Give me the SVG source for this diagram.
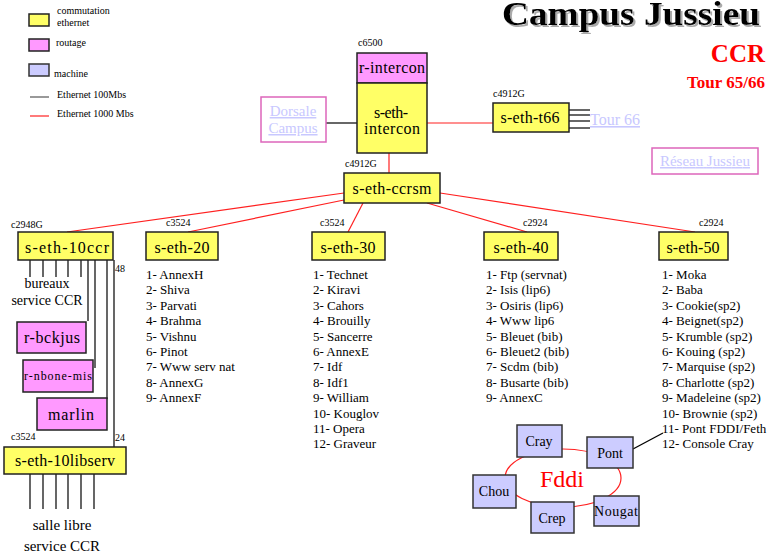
<svg xmlns="http://www.w3.org/2000/svg" width="767" height="555" viewBox="0 0 767 555" font-family="Times New Roman">
<defs>
<filter id="shadow" x="-5%" y="-20%" width="110%" height="150%">
<feOffset in="SourceAlpha" dx="2" dy="2" result="o"/>
<feFlood flood-color="#aaaaaa"/>
<feComposite in2="o" operator="in" result="s"/>
<feMerge><feMergeNode in="s"/><feMergeNode in="SourceGraphic"/></feMerge>
</filter>
</defs>
<style>
text{font-family:'Times New Roman','Liberation Serif',serif}
.sw{fill:#ffff66;stroke:#222;stroke-width:1.5}
.rt{fill:#ff99ff;stroke:#222;stroke-width:1.5}
.mc{fill:#ccccff;stroke:#333;stroke-width:1.5}
.lk{fill:#fff;stroke:#dd66bb;stroke-width:1.5}
.lt{fill:#c8c8ff;text-decoration:underline}
.red{fill:#ff0000}
.bl{font-size:16px;text-anchor:middle}
.sm{font-size:10px}
.li{font-size:13px}
.r{stroke:#ff2020;stroke-width:1.2;fill:none}
.k{stroke:#000;stroke-width:1.2;fill:none}
</style>

<g id="legend">
<rect x="29" y="14" width="20" height="12" class="sw"/>
<text x="57" y="14" class="sm">commutation</text>
<text x="57" y="26" class="sm">ethernet</text>
<rect x="29" y="39" width="20" height="12" class="rt"/>
<text x="56" y="46" class="sm">routage</text>
<rect x="29" y="64" width="20" height="12" class="mc"/>
<text x="54" y="77" class="sm">machine</text>
<line x1="30" y1="97" x2="49" y2="97" stroke="#555" stroke-width="1.2"/>
<text x="57" y="98" class="sm">Ethernet 100Mbs</text>
<line x1="30" y1="116" x2="49" y2="116" stroke="#ff2020" stroke-width="1.2"/>
<text x="57" y="117" class="sm">Ethernet 1000 Mbs</text>
</g>

<g id="title">
<text x="502" y="25" font-size="34" font-weight="bold" filter="url(#shadow)" textLength="258" lengthAdjust="spacingAndGlyphs">Campus Jussieu</text>
<text x="765" y="62" font-size="25" font-weight="bold" text-anchor="end" class="red">CCR</text>
<text x="765" y="88" font-size="17" font-weight="bold" text-anchor="end" class="red">Tour 65/66</text>
</g>

<g id="connectors">
<line x1="326" y1="123" x2="357" y2="123" class="k"/>
<line x1="427" y1="123" x2="493" y2="123" class="r"/>
<line x1="389" y1="153" x2="389" y2="173" class="r"/>
<line x1="344" y1="193" x2="67" y2="232" class="r"/>
<line x1="344" y1="200" x2="188" y2="232" class="r"/>
<line x1="363" y1="203" x2="348" y2="232" class="r"/>
<line x1="427" y1="203" x2="527" y2="232" class="r"/>
<line x1="440" y1="193" x2="695" y2="232" class="r"/>
<g class="k">
<line x1="569" y1="110" x2="590" y2="110"/>
<line x1="569" y1="115" x2="590" y2="115"/>
<line x1="569" y1="121" x2="590" y2="121"/>
<line x1="569" y1="128" x2="590" y2="128"/>
<line x1="30" y1="260" x2="30" y2="277"/>
<line x1="43" y1="260" x2="43" y2="277"/>
<line x1="56" y1="260" x2="56" y2="277"/>
<line x1="68" y1="260" x2="68" y2="277"/>
<line x1="81" y1="260" x2="81" y2="277"/>
<line x1="88" y1="260" x2="88" y2="321"/>
<line x1="95" y1="260" x2="95" y2="368"/>
<line x1="107" y1="260" x2="107" y2="399"/>
<line x1="114" y1="260" x2="114" y2="447"/>
<line x1="30" y1="474" x2="30" y2="509"/>
<line x1="43" y1="474" x2="43" y2="509"/>
<line x1="56" y1="474" x2="56" y2="509"/>
<line x1="68" y1="474" x2="68" y2="509"/>
<line x1="81" y1="474" x2="81" y2="509"/>
<line x1="94" y1="474" x2="94" y2="509"/>
<line x1="633" y1="449" x2="663" y2="433"/>
</g>
<ellipse cx="563" cy="478" rx="58" ry="29" class="r"/>
</g>

<g id="dorsale">
<rect x="261" y="97" width="65" height="45" class="lk"/>
<text x="293" y="116" font-size="15" text-anchor="middle" class="lt">Dorsale</text>
<text x="293" y="133" font-size="15" text-anchor="middle" class="lt">Campus</text>
</g>

<g id="r-intercon">
<text x="358" y="46" class="sm">c6500</text>
<rect x="357" y="53" width="70" height="30" class="rt"/>
<text x="392" y="73" class="bl" textLength="66">r-intercon</text>
</g>

<g id="s-eth-intercon">
<rect x="357" y="83" width="70" height="70" class="sw"/>
<text x="391" y="118" class="bl" textLength="34">s-eth-</text>
<text x="392" y="134" class="bl" textLength="56">intercon</text>
</g>

<g id="s-eth-t66">
<text x="493" y="97" class="sm">c4912G</text>
<rect x="493" y="103" width="76" height="29" class="sw"/>
<text x="530" y="123" class="bl" textLength="59">s-eth-t66</text>
</g>

<g id="tour66">
<text x="590" y="125" font-size="16" class="lt">Tour 66</text>
</g>

<g id="reseau">
<rect x="652" y="148" width="106" height="26" class="lk"/>
<text x="660" y="166" font-size="15" class="lt" textLength="90">Réseau Jussieu</text>
</g>

<g id="s-eth-ccrsm">
<text x="345" y="167" class="sm">c4912G</text>
<rect x="344" y="173" width="96" height="30" class="sw"/>
<text x="392" y="194" class="bl" textLength="79">s-eth-ccrsm</text>
</g>

<g id="s-eth-10ccr">
<text x="11" y="228" class="sm">c2948G</text>
<rect x="18" y="232" width="95" height="28" class="sw"/>
<text x="67" y="253" class="bl" textLength="84">s-eth-10ccr</text>
<text x="47" y="288" font-size="14" text-anchor="middle">bureaux</text>
<text x="47" y="305" font-size="14" text-anchor="middle">service CCR</text>
<text x="115" y="272" class="sm">48</text>
<text x="115" y="441" class="sm">24</text>
</g>

<g id="s-eth-20">
<text x="166" y="226" class="sm">c3524</text>
<rect x="146" y="232" width="72" height="28" class="sw"/>
<text x="182" y="253" class="bl" textLength="55">s-eth-20</text>
<g class="li">
<text x="146" y="279">1- AnnexH</text>
<text x="146" y="294.4">2- Shiva</text>
<text x="146" y="309.8">3- Parvati</text>
<text x="146" y="325.2">4- Brahma</text>
<text x="146" y="340.6">5- Vishnu</text>
<text x="146" y="356">6- Pinot</text>
<text x="146" y="371.4">7- Www serv nat</text>
<text x="146" y="386.8">8- AnnexG</text>
<text x="146" y="402.2">9- AnnexF</text>
</g>
</g>

<g id="s-eth-30">
<text x="320" y="226" class="sm">c3524</text>
<rect x="312" y="232" width="73" height="28" class="sw"/>
<text x="348" y="253" class="bl" textLength="55">s-eth-30</text>
<g class="li">
<text x="313" y="279">1- Technet</text>
<text x="313" y="294.4">2- Kiravi</text>
<text x="313" y="309.8">3- Cahors</text>
<text x="313" y="325.2">4- Brouilly</text>
<text x="313" y="340.6">5- Sancerre</text>
<text x="313" y="356">6- AnnexE</text>
<text x="313" y="371.4">7- Idf</text>
<text x="313" y="386.8">8- Idf1</text>
<text x="313" y="402.2">9- William</text>
<text x="313" y="417.6">10- Kouglov</text>
<text x="313" y="433">11- Opera</text>
<text x="313" y="448.4">12- Graveur</text>
</g>
</g>

<g id="s-eth-40">
<text x="523" y="226" class="sm">c2924</text>
<rect x="484" y="232" width="74" height="28" class="sw"/>
<text x="521" y="253" class="bl" textLength="55">s-eth-40</text>
<g class="li">
<text x="486" y="279">1- Ftp (servnat)</text>
<text x="486" y="294.4">2- Isis (lip6)</text>
<text x="486" y="309.8">3- Osiris (lip6)</text>
<text x="486" y="325.2">4- Www lip6</text>
<text x="486" y="340.6">5- Bleuet (bib)</text>
<text x="486" y="356">6- Bleuet2 (bib)</text>
<text x="486" y="371.4">7- Scdm (bib)</text>
<text x="486" y="386.8">8- Busarte (bib)</text>
<text x="486" y="402.2">9- AnnexC</text>
</g>
</g>

<g id="s-eth-50">
<text x="699" y="226" class="sm">c2924</text>
<rect x="659" y="232" width="69" height="28" class="sw"/>
<text x="693" y="253" class="bl" textLength="53">s-eth-50</text>
<g class="li">
<text x="662" y="279">1- Moka</text>
<text x="662" y="294.4">2- Baba</text>
<text x="662" y="309.8">3- Cookie(sp2)</text>
<text x="662" y="325.2">4- Beignet(sp2)</text>
<text x="662" y="340.6">5- Krumble (sp2)</text>
<text x="662" y="356">6- Kouing (sp2)</text>
<text x="662" y="371.4">7- Marquise (sp2)</text>
<text x="662" y="386.8">8- Charlotte (sp2)</text>
<text x="662" y="402.2">9- Madeleine (sp2)</text>
<text x="662" y="417.6">10- Brownie (sp2)</text>
<text x="662" y="433">11- Pont FDDI/Feth</text>
<text x="662" y="448.4">12- Console Cray</text>
</g>
</g>

<g id="r-bckjus">
<rect x="17" y="322" width="69" height="31" class="rt"/>
<text x="52" y="343" class="bl" textLength="56">r-bckjus</text>
</g>

<g id="r-nbone-mis">
<rect x="23" y="360" width="70" height="32" class="rt"/>
<text x="58" y="380" font-size="12" text-anchor="middle" textLength="68">r-nbone-mis</text>
</g>

<g id="marlin">
<rect x="37" y="398" width="70" height="32" class="rt"/>
<text x="71" y="420" class="bl" textLength="46">marlin</text>
</g>

<g id="s-eth-10libserv">
<text x="11" y="440" class="sm">c3524</text>
<rect x="4" y="447" width="122" height="27" class="sw"/>
<text x="65" y="466" class="bl" textLength="100">s-eth-10libserv</text>
<text x="62" y="530" font-size="15" text-anchor="middle">salle libre</text>
<text x="62" y="551" font-size="15" text-anchor="middle">service CCR</text>
</g>

<g id="fddi">
<text x="562" y="487" font-size="24" text-anchor="middle" class="red">Fddi</text>
</g>

<g id="cray">
<rect x="517" y="425" width="45" height="32" class="mc"/>
<text x="539" y="446" font-size="14" text-anchor="middle">Cray</text>
</g>
<g id="pont">
<rect x="587" y="437" width="46" height="31" class="mc"/>
<text x="610" y="458" font-size="14" text-anchor="middle">Pont</text>
</g>
<g id="chou">
<rect x="473" y="475" width="43" height="33" class="mc"/>
<text x="494" y="496" font-size="14" text-anchor="middle">Chou</text>
</g>
<g id="crep">
<rect x="531" y="502" width="43" height="31" class="mc"/>
<text x="552" y="523" font-size="14" text-anchor="middle">Crep</text>
</g>
<g id="nougat">
<rect x="594" y="496" width="45" height="30" class="mc"/>
<text x="616" y="516" font-size="14" text-anchor="middle" textLength="44">Nougat</text>
</g>
</svg>
